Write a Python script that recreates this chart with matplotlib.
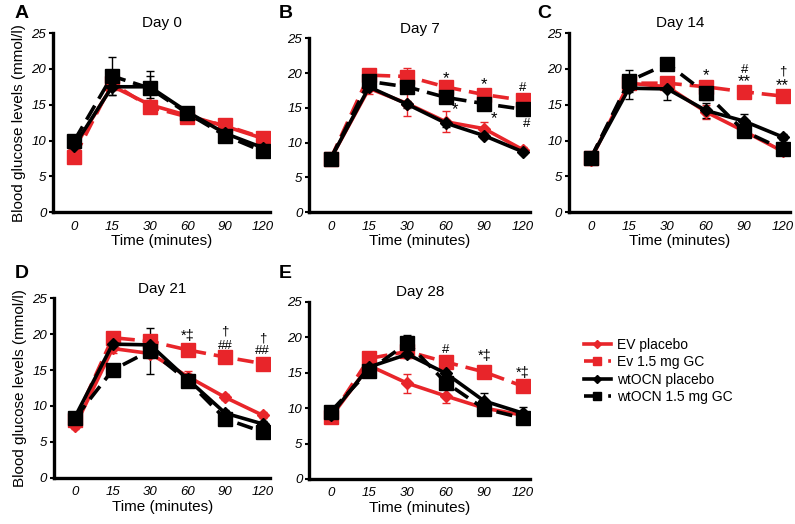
import numpy as np
import matplotlib
matplotlib.use('Agg')
import matplotlib.pyplot as plt
from matplotlib.lines import Line2D

plt.rcParams['font.family'] = ['Liberation Sans', 'DejaVu Sans']

# --- data ---
times = ['0', '15', '30', '60', '90', '120']
days = ['Day 0', 'Day 7', 'Day 14', 'Day 21', 'Day 28']
letters = ['A', 'B', 'C', 'D', 'E']
groups = ['EV placebo', 'Ev 1.5 mg GC', 'wtOCN placebo', 'wtOCN 1.5 mg GC']

ev_placebo = [
    [9.0, 17.6, 15.0, 13.5, 12.0, 10.3],
    [7.7, 17.8, 15.6, 13.0, 12.0, 9.0],
    [7.3, 18.0, 17.5, 14.0, 11.3, 8.5],
    [7.2, 18.0, 17.3, 14.1, 11.2, 8.7],
    [8.7, 16.0, 13.5, 11.7, 10.0, 9.0],
]
ev_gc = [
    [7.7, 18.0, 14.7, 13.3, 12.1, 10.4],
    [7.7, 19.7, 19.5, 18.0, 16.9, 16.1],
    [7.5, 18.0, 18.0, 17.5, 16.8, 16.2],
    [8.0, 19.5, 19.0, 17.8, 16.8, 15.9],
    [8.7, 17.0, 18.0, 16.5, 15.1, 13.1],
]
wt_placebo = [
    [9.3, 17.5, 17.5, 14.0, 11.0, 9.0],
    [7.7, 18.0, 15.5, 12.8, 11.0, 8.7],
    [7.5, 17.3, 17.2, 14.2, 12.7, 10.5],
    [8.5, 18.6, 18.5, 13.7, 9.0, 7.5],
    [9.0, 15.8, 17.6, 14.9, 11.0, 9.3],
]
wt_gc = [
    [10.0, 19.0, 17.3, 13.8, 10.7, 8.5],
    [7.7, 18.8, 18.0, 16.5, 15.6, 14.8],
    [7.5, 18.3, 20.7, 16.6, 11.3, 8.8],
    [8.3, 15.0, 17.7, 13.5, 8.2, 6.4],
    [9.5, 15.3, 19.2, 13.6, 9.9, 8.6],
]
# SEM values
ev_placebo_err = [
    [0.5, 0.6, 0.5, 0.5, 0.5, 0.5],
    [0.4, 0.8, 1.8, 1.5, 1.0, 0.4],
    [0.5, 0.6, 0.6, 1.0, 0.6, 0.5],
    [0.4, 0.6, 0.6, 0.8, 0.4, 0.4],
    [0.4, 0.6, 1.3, 1.0, 0.5, 0.4],
]
ev_gc_err = [
    [0.5, 0.6, 0.6, 0.5, 0.5, 0.5],
    [0.4, 0.5, 1.2, 0.5, 0.5, 0.4],
    [0.5, 0.6, 0.9, 0.7, 0.8, 0.8],
    [0.4, 0.5, 0.6, 0.5, 0.4, 0.4],
    [0.4, 0.5, 0.6, 0.5, 0.4, 0.4],
]
wt_placebo_err = [
    [0.5, 1.1, 1.5, 0.5, 0.5, 0.5],
    [0.4, 0.5, 0.5, 0.5, 0.4, 0.4],
    [0.4, 1.5, 1.5, 1.0, 1.0, 0.4],
    [0.4, 0.6, 1.2, 0.8, 0.5, 0.4],
    [0.4, 0.5, 0.6, 0.6, 1.1, 0.8],
]
wt_gc_err = [
    [0.5, 2.7, 2.4, 0.6, 0.5, 0.5],
    [0.4, 0.5, 0.6, 0.5, 0.5, 0.4],
    [0.4, 1.5, 0.5, 1.0, 0.8, 0.5],
    [0.4, 0.5, 3.2, 0.5, 0.5, 0.4],
    [0.4, 0.5, 1.1, 0.5, 0.5, 0.4],
]

# significance marks: (panel, time index, y, text)
sig_marks = [
    (1, 3, 19.2, '*'), (1, 3.25, 14.7, '*'),
    (1, 4, 18.4, '*'), (1, 4.25, 13.4, '*'),
    (1, 5, 17.8, '#'), (1, 5.1, 12.7, '#'),
    (2, 3, 19.1, '*'), (2, 4, 19.9, '#'), (2, 4, 18.2, '**'),
    (2, 5, 19.6, '†'), (2, 5, 17.6, '**'),
    (3, 3, 19.8, '*‡'), (3, 4, 20.4, '†'), (3, 4, 18.4, '##'),
    (3, 5, 19.4, '†'), (3, 5, 17.7, '##'),
    (4, 3, 18.2, '#'), (4, 4, 17.3, '*‡'), (4, 5, 15.0, '*‡'),
]

red = '#e8252a'
styles = [
    dict(color=red, ls='-', marker='D', ms=6.5),
    dict(color=red, ls=(0, (4.5, 2.2)), marker='s', ms=9.5),
    dict(color='black', ls='-', marker='D', ms=6.5),
    dict(color='black', ls=(0, (4.5, 2.2)), marker='s', ms=9.5),
]
series = [ev_placebo, ev_gc, wt_placebo, wt_gc]
errors = [ev_placebo_err, ev_gc_err, wt_placebo_err, wt_gc_err]

fig = plt.figure(figsize=(7.95, 5.24), dpi=100)
positions = [
    [0.067, 0.595, 0.273, 0.342],
    [0.389, 0.595, 0.278, 0.332],
    [0.716, 0.595, 0.278, 0.342],
    [0.068, 0.088, 0.272, 0.343],
    [0.389, 0.086, 0.278, 0.338],
]
x = np.arange(len(times))

for i, pos in enumerate(positions):
    ax = fig.add_axes(pos)
    for s, e, st, name in zip(series, errors, styles, groups):
        ax.errorbar(x, s[i], yerr=e[i], color=st['color'], ls=st['ls'],
                    lw=2.6, marker=st['marker'], ms=st['ms'],
                    elinewidth=1.0, capsize=3, capthick=1.0, label=name)
    for p, xi, yi, txt in sig_marks:
        if p == i:
            fs = 12 if txt.strip('*') == '' else (10.5 if '*' in txt else 9.5)
            ax.text(xi, yi, txt, ha='center', va='center', fontsize=fs)
    ax.set_xlim(-0.56, 5.2)
    ax.set_ylim(0, 25)
    ax.set_yticks([0, 5, 10, 15, 20, 25])
    ax.set_xticks(x)
    ax.set_xticklabels(times, fontstyle='italic', fontsize=9.5)
    for lab in ax.get_yticklabels():
        lab.set_fontstyle('italic')
        lab.set_fontsize(9.5)
    ax.tick_params(axis='x', length=0, pad=6)
    ax.tick_params(axis='y', length=3, width=1.5, pad=2)
    for sp in ['top', 'right']:
        ax.spines[sp].set_visible(False)
    for sp in ['left', 'bottom']:
        ax.spines[sp].set_linewidth(2.4)
    ax.set_xlabel('Time (minutes)', fontsize=11, labelpad=1)
    ax.set_title(days[i], fontsize=11, pad=4)
    if i in (0, 3):
        ax.set_ylabel('Blood glucose levels (mmol/l)', fontsize=11, labelpad=4)

letter_xy = [(0.018, 0.975), (0.350, 0.975), (0.676, 0.975),
             (0.018, 0.478), (0.350, 0.478)]
for L, (lx, ly) in zip(letters, letter_xy):
    fig.text(lx, ly, L, fontsize=14, fontweight='bold', va='center')

handles = [Line2D([], [], color=st['color'], ls=st['ls'], lw=2.6,
                  marker=st['marker'], ms=st['ms'] * 0.6) for st in styles]
fig.legend(handles, groups, loc='center left', bbox_to_anchor=(0.727, 0.292),
           frameon=False, fontsize=10, handlelength=2.0, handletextpad=0.4,
           labelspacing=0.25, borderaxespad=0)

fig.savefig('out.png', dpi=100)
